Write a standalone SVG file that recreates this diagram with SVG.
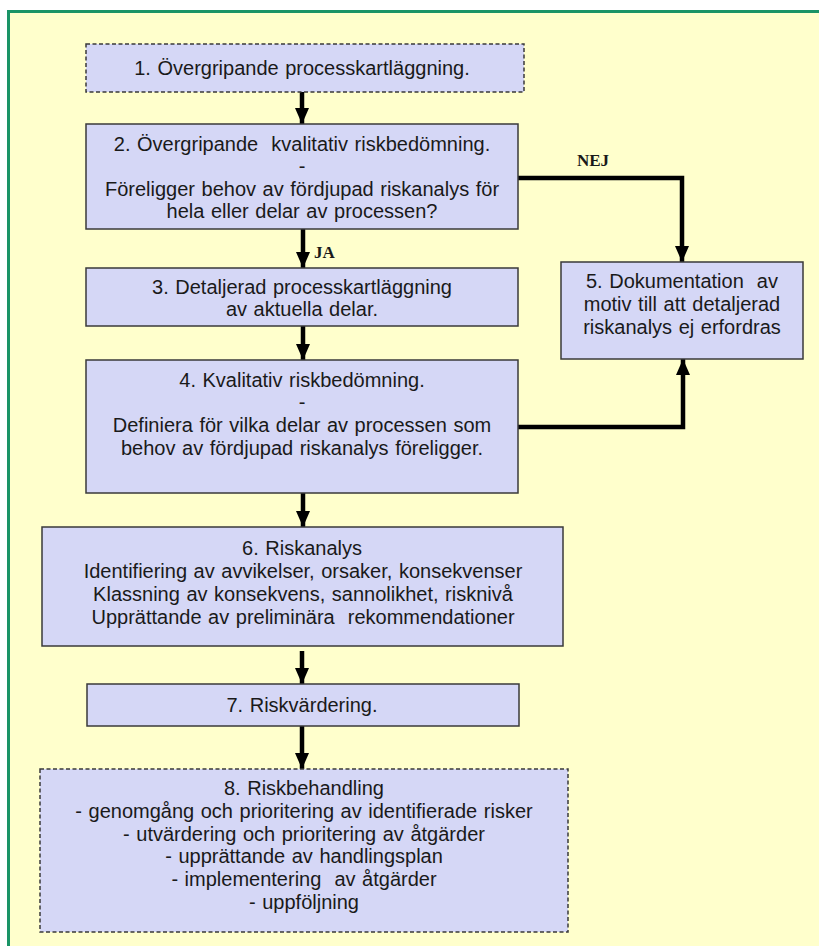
<svg xmlns="http://www.w3.org/2000/svg" width="819" height="946" viewBox="0 0 819 946">
<style>
.box{fill:#d5d7f6;stroke:#3a3a3a;stroke-width:1.5}
.dash{stroke-dasharray:4 2.5}
.t{font-family:"Liberation Sans",Arial,sans-serif;font-size:20px;fill:#1a1a1a;text-anchor:middle;word-spacing:1px}
.lbl{font-family:"Liberation Serif","Times New Roman",serif;font-size:17px;font-weight:bold;fill:#1a1a1a}
.c{fill:none;stroke:#000;stroke-width:4.5}
.ah{fill:#000}
</style>
<defs>
<marker id="arr" viewBox="0 0 16 14" refX="16" refY="7" markerWidth="16" markerHeight="14" markerUnits="userSpaceOnUse" orient="auto">
<path d="M0,0 L16,7 L0,14 Z" class="ah"/>
</marker>
</defs>
<rect x="0" y="0" width="819" height="946" fill="#ffffff"/>
<rect x="8.5" y="11.5" width="830" height="950" fill="#ffffcc" stroke="#1a9466" stroke-width="3"/>

<g id="connectors">
<line class="c" x1="302" y1="92" x2="302" y2="124" marker-end="url(#arr)"/>
<line class="c" x1="303" y1="229" x2="303" y2="268" marker-end="url(#arr)"/>
<line class="c" x1="303" y1="326" x2="303" y2="360" marker-end="url(#arr)"/>
<line class="c" x1="303" y1="493" x2="303" y2="527" marker-end="url(#arr)"/>
<line class="c" x1="302" y1="651" x2="302" y2="684" marker-end="url(#arr)"/>
<line class="c" x1="302" y1="726" x2="302" y2="769" marker-end="url(#arr)"/>
<polyline class="c" points="518,178 682,178 682,262" marker-end="url(#arr)"/>
<polyline class="c" points="518,427 683,427 683,359" marker-end="url(#arr)"/>
<text class="lbl" x="314" y="258">JA</text>
<text class="lbl" x="577" y="166">NEJ</text>
</g>

<g id="n1">
<rect class="box dash" x="86" y="44" width="438" height="48"/>
<text class="t" x="302" y="75">1. Övergripande processkartläggning.</text>
</g>
<g id="n2">
<rect class="box" x="86" y="124" width="432" height="105"/>
<text class="t" x="302" y="151" xml:space="preserve">2. Övergripande  kvalitativ riskbedömning.</text>
<text class="t" x="302" y="173">-</text>
<text class="t" x="302" y="196">Föreligger behov av fördjupad riskanalys för</text>
<text class="t" x="302" y="218">hela eller delar av processen?</text>
</g>
<g id="n3">
<rect class="box" x="86" y="268" width="432" height="58"/>
<text class="t" x="302" y="294">3. Detaljerad processkartläggning</text>
<text class="t" x="302" y="316">av aktuella delar.</text>
</g>
<g id="n4">
<rect class="box" x="86" y="360" width="432" height="133"/>
<text class="t" x="302" y="387">4. Kvalitativ riskbedömning.</text>
<text class="t" x="302" y="409">-</text>
<text class="t" x="302" y="432">Definiera för vilka delar av processen som</text>
<text class="t" x="302" y="455">behov av fördjupad riskanalys föreligger.</text>
</g>
<g id="n5">
<rect class="box" x="561" y="262" width="242" height="97"/>
<text class="t" x="682" y="288" xml:space="preserve">5. Dokumentation  av</text>
<text class="t" x="682" y="311">motiv till att detaljerad</text>
<text class="t" x="682" y="334">riskanalys ej erfordras</text>
</g>
<g id="n6">
<rect class="box" x="42" y="527" width="521" height="119"/>
<text class="t" x="302" y="555">6. Riskanalys</text>
<text class="t" x="303" y="578">Identifiering av avvikelser, orsaker, konsekvenser</text>
<text class="t" x="303" y="601">Klassning av konsekvens, sannolikhet, risknivå</text>
<text class="t" x="303" y="624" xml:space="preserve">Upprättande av preliminära  rekommendationer</text>
</g>
<g id="n7">
<rect class="box" x="87" y="684" width="432" height="42"/>
<text class="t" x="302" y="712">7. Riskvärdering.</text>
</g>
<g id="n8">
<rect class="box dash" x="40" y="769" width="528" height="163"/>
<text class="t" x="304" y="795">8. Riskbehandling</text>
<text class="t" x="304" y="818">- genomgång och prioritering av identifierade risker</text>
<text class="t" x="304" y="841">- utvärdering och prioritering av åtgärder</text>
<text class="t" x="304" y="863">- upprättande av handlingsplan</text>
<text class="t" x="304" y="886" xml:space="preserve">- implementering  av åtgärder</text>
<text class="t" x="304" y="909">- uppföljning</text>
</g>
</svg>
